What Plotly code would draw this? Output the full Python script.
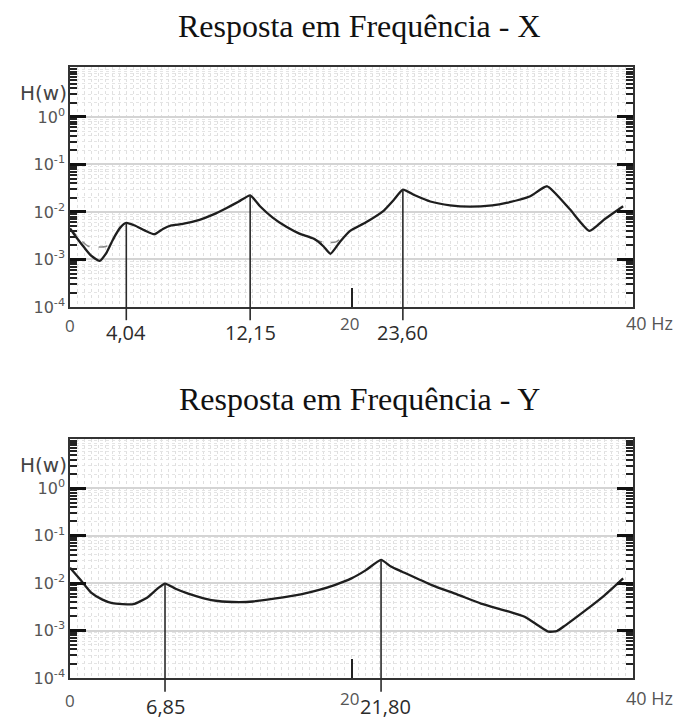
import plotly.graph_objects as go

# ---------------- data ----------------
# Top chart: Resposta em Frequência - X
freq_x = [0.0, 0.5, 1.0, 1.5, 2.1, 2.6, 3.1, 3.6, 4.0, 4.6, 5.3, 6.0, 6.6, 7.2, 8.0,
          9.2, 10.2, 11.1, 12.0, 12.8, 13.5, 14.4, 15.4, 16.3, 17.3, 18.0, 18.5,
          19.2, 19.9, 21.0, 22.3, 23.0, 23.65, 24.5, 25.6, 27.0, 28.4, 30.0, 31.0,
          32.7, 33.9, 35.5, 36.9, 38.0, 39.3]
h_x = [4.5e-3, 2.8e-3, 1.8e-3, 1.2e-3, 9.3e-4, 1.4e-3, 2.8e-3, 4.8e-3, 5.9e-3,
       5.2e-3, 4.1e-3, 3.4e-3, 4.4e-3, 5.2e-3, 5.6e-3, 6.8e-3, 8.9e-3, 1.2e-2,
       1.66e-2, 2.24e-2, 1.32e-2, 7.6e-3, 4.8e-3, 3.5e-3, 2.75e-3, 1.9e-3, 1.32e-3,
       2.4e-3, 4.0e-3, 6.0e-3, 1.07e-2, 1.78e-2, 2.95e-2, 2.24e-2, 1.66e-2, 1.38e-2,
       1.29e-2, 1.38e-2, 1.55e-2, 2.14e-2, 3.47e-2, 1.15e-2, 4.0e-3, 7.1e-3, 1.32e-2]
# faint dashed second curve (visible only where it departs from the main one)
freq_x_dash = [0.0, 0.6, 1.3, 2.6, 3.2, None, 17.3, 18.0, 18.9, 19.5]
h_x_dash = [4.5e-3, 2.9e-3, 1.9e-3, 1.9e-3, 2.9e-3, None, 2.75e-3, 2.3e-3, 2.35e-3, 3.3e-3]
peak_pos_x = [4.0, 12.8, 23.65]
peak_h_x = [5.9e-3, 2.24e-2, 2.95e-2]
peak_lbl_x = ["4,04", "12,15", "23,60"]

# Bottom chart: Resposta em Frequência - Y
freq_y = [0.0, 0.8, 1.5, 2.3, 3.0, 4.5, 5.5, 6.2, 6.75, 7.5, 8.4, 9.5, 10.5, 12.0,
          13.0, 14.5, 16.4, 17.7, 18.8, 20.0, 21.0, 22.1, 22.8, 23.6, 25.7, 27.5,
          29.2, 31.0, 32.3, 33.3, 34.0, 34.6, 35.2, 36.5, 38.0, 39.3]
h_y = [2.1e-2, 1.12e-2, 6.3e-3, 4.5e-3, 3.8e-3, 3.6e-3, 5.0e-3, 7.6e-3, 9.8e-3,
       7.6e-3, 6.0e-3, 4.8e-3, 4.2e-3, 4.0e-3, 4.1e-3, 4.7e-3, 5.8e-3, 7.2e-3,
       9.1e-3, 1.26e-2, 1.86e-2, 3.1e-2, 2.24e-2, 1.74e-2, 9.1e-3, 5.8e-3, 3.7e-3,
       2.6e-3, 1.95e-3, 1.26e-3, 9.5e-4, 9.8e-4, 1.29e-3, 2.5e-3, 5.6e-3, 1.26e-2]
peak_pos_y = [6.75, 22.1]
peak_h_y = [9.8e-3, 3.1e-2]
peak_lbl_y = ["6,85", "21,80"]

ytick_vals = [1e-4, 1e-3, 1e-2, 1e-1, 1]
ytick_text = ["10<sup>-4</sup>", "10<sup>-3</sup>", "10<sup>-2</sup>", "10<sup>-1</sup>", "10<sup>0</sup>"]
xtick_vals = [0, 20, 40]
titles = ["Resposta em Frequência - X", "Resposta em Frequência - Y"]

# ---------------- figure ----------------
fig = go.Figure()
CURVE = "#1e1e1e"
LINE = "#2a2a2a"
LBL_FONT = dict(family="Open Sans", size=20, color="#2b2b2b")
TICK_FONT = dict(family="Open Sans", size=17, color="#555")

fig.add_trace(go.Scatter(x=freq_x_dash, y=h_x_dash, mode="lines", xaxis="x", yaxis="y",
                         line=dict(color="#8a8a8a", width=1.5, dash="dash", shape="spline",
                                   smoothing=0.6), hoverinfo="skip"))
fig.add_trace(go.Scatter(x=freq_x, y=h_x, mode="lines", xaxis="x", yaxis="y",
                         line=dict(color=CURVE, width=2.3, shape="spline", smoothing=0.5)))
fig.add_trace(go.Scatter(x=freq_y, y=h_y, mode="lines", xaxis="x2", yaxis="y2",
                         line=dict(color=CURVE, width=2.3, shape="spline", smoothing=0.5)))

def add_peaks(pos, hv, labels, xa, ya, ext, lbl_shift, dx):
    for p, h, t, d in zip(pos, hv, labels, dx):
        fig.add_trace(go.Scatter(x=[p, p], y=[1e-4, h], mode="lines", xaxis=xa, yaxis=ya,
                                 line=dict(color=LINE, width=1.6), hoverinfo="skip"))
        fig.add_shape(type="line", xref=xa, yref=ya + " domain", x0=p, x1=p, y0=-ext, y1=0,
                      line=dict(color=LINE, width=1.6))
        fig.add_annotation(text=t, xref=xa, yref=ya + " domain", x=p, y=0, showarrow=False,
                           xanchor="center", yanchor="middle", yshift=lbl_shift, xshift=d,
                           font=LBL_FONT)

add_peaks(peak_pos_x, peak_h_x, peak_lbl_x, "x", "y", 0.055, -25, [0, 0, 0])
add_peaks(peak_pos_y, peak_h_y, peak_lbl_y, "x2", "y2", 0.058, -28, [0, 4])

for xa, ya, sh0, sh20 in [("x", "y", -18, -16), ("x2", "y2", -22, -20)]:
    fig.add_annotation(text=str(xtick_vals[0]), xref=xa, yref=ya + " domain", x=xtick_vals[0], y=0,
                       showarrow=False, yanchor="middle", yshift=sh0, font=TICK_FONT)
    fig.add_annotation(text=str(xtick_vals[1]), xref=xa, yref=ya + " domain", x=xtick_vals[1], y=0,
                       showarrow=False, yanchor="middle", yshift=sh20, xshift=-2, font=TICK_FONT)
    fig.add_annotation(text=f"{xtick_vals[2]} Hz", xref=xa, yref=ya + " domain", x=xtick_vals[2], y=0,
                       showarrow=False, xanchor="left", xshift=-9, yanchor="middle", yshift=sh20,
                       font=dict(TICK_FONT, size=18))
    fig.add_annotation(text="H(w)", xref="paper", yref=ya + " domain", x=0, y=0.89,
                       xanchor="right", xshift=-1, showarrow=False, yanchor="middle",
                       font=dict(family="DejaVu Sans", size=20, color="#444"))

fig.add_annotation(text=titles[0], xref="paper", yref="paper", x=0.515, y=1, yshift=41,
                   showarrow=False, yanchor="middle",
                   font=dict(family="Liberation Serif", size=32, color="#111"))
fig.add_annotation(text=titles[1], xref="paper", yref="y2 domain", x=0.515, y=1, yshift=40,
                   showarrow=False, yanchor="middle",
                   font=dict(family="Liberation Serif", size=32, color="#111"))

yax = dict(type="log", tickmode="array", tickvals=ytick_vals, ticktext=ytick_text,
           ticks="inside", ticklen=16, tickwidth=2.5, tickcolor="#111",
           showline=True, linecolor="#333", linewidth=1.6, mirror="allticks",
           showgrid=True, gridcolor="#d4d4d4", gridwidth=2, zeroline=False,
           minor=dict(ticks="inside", ticklen=7, tickwidth=1.5, tickcolor="#222", dtick="D1",
                      showgrid=True, gridcolor="#e4e4e4", griddash="dot", gridwidth=1),
           tickfont=dict(family="DejaVu Sans", size=16, color="#555"))
xax = dict(range=[0, 40], tickmode="array", tickvals=xtick_vals, ticks="inside", ticklen=19,
           tickwidth=1.6, tickcolor="#222", showticklabels=False, showline=True,
           linecolor="#333", linewidth=1.6, mirror=True, showgrid=False, zeroline=False,
           minor=dict(dtick=0.5, tick0=0, showgrid=True, gridcolor="#e0e0e0", griddash="dot",
                      gridwidth=1, ticks=""))

fig.update_layout(
    width=686, height=722, margin=dict(l=70, r=53, t=67, b=44),
    paper_bgcolor="white", plot_bgcolor="white", showlegend=False,
    xaxis=dict(xax, domain=[0, 1], anchor="y"),
    yaxis=dict(yax, domain=[0.6072, 1], anchor="x", range=[-4, 1.05]),
    xaxis2=dict(xax, domain=[0, 1], anchor="y2"),
    yaxis2=dict(yax, domain=[0, 0.3912], anchor="x2", range=[-4, 1.04]),
)

fig.write_html("out.html", config={"displayModeBar": False},
               post_script="document.body.style.margin='0px';")
